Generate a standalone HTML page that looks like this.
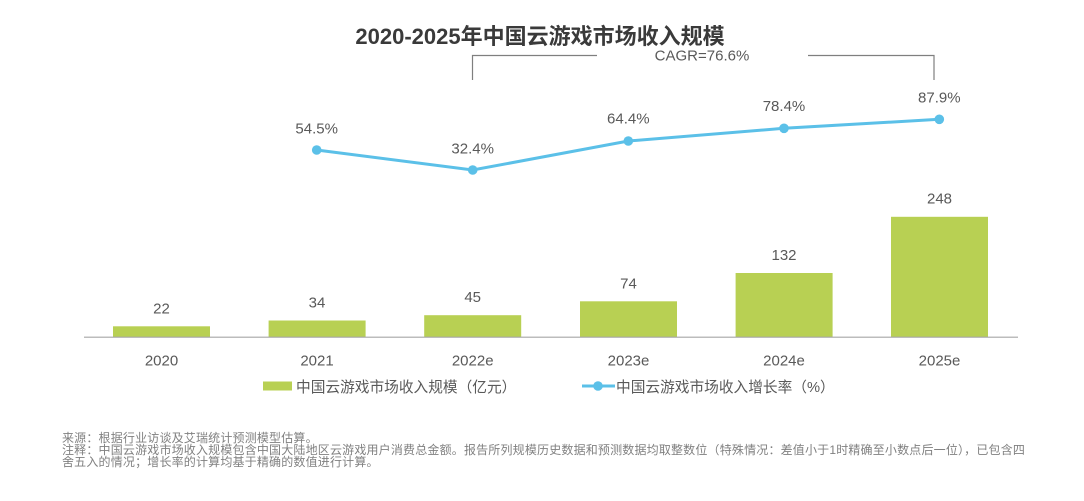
<!DOCTYPE html>
<html>
<head>
<meta charset="utf-8">
<style>
  html,body{margin:0;padding:0;background:#fff;}
  body{width:1084px;height:501px;overflow:hidden;position:relative;}
  svg{position:absolute;left:0;top:0;}
  .t{font-family:"Liberation Sans","Noto Sans CJK SC",sans-serif;}
  .foot{position:absolute;left:62px;font-family:"Liberation Sans","Noto Sans CJK SC",sans-serif;font-size:12px;line-height:12px;height:12px;color:#808080;white-space:nowrap;letter-spacing:0.18px;}
</style>
</head>
<body>
<svg width="1084" height="501" viewBox="0 0 1084 501" xmlns="http://www.w3.org/2000/svg">
  <!-- Title -->
  <text class="t" x="540" y="44" text-anchor="middle" font-size="22" font-weight="bold" fill="#3a3a3a">2020-2025年中国云游戏市场收入规模</text>

  <!-- CAGR bracket -->
  <polyline points="472.5,80 472.5,55.5 597,55.5" fill="none" stroke="#7f7f7f" stroke-width="1.2"/>
  <polyline points="808,55.5 934,55.5 934,80" fill="none" stroke="#7f7f7f" stroke-width="1.2"/>
  <text class="t" x="702" y="60.5" text-anchor="middle" font-size="15" fill="#595959">CAGR=76.6%</text>

  <!-- Bars -->
  <g fill="#b8d053">
    <rect x="113" y="326.3" width="97" height="10.7"/>
    <rect x="268.6" y="320.5" width="97" height="16.5"/>
    <rect x="424.2" y="315.2" width="97" height="21.8"/>
    <rect x="580" y="301.3" width="97" height="35.7"/>
    <rect x="735.6" y="273" width="97" height="64"/>
    <rect x="891" y="216.8" width="97" height="120.2"/>
  </g>
  <!-- Axis -->
  <line x1="84" y1="337.2" x2="1018" y2="337.2" stroke="#a6a6a6" stroke-width="1.2"/>

  <!-- Bar value labels -->
  <g class="t" font-size="15" fill="#595959" text-anchor="middle">
    <text x="161.5" y="313.5">22</text>
    <text x="317" y="307.5">34</text>
    <text x="472.7" y="302">45</text>
    <text x="628.5" y="288.5">74</text>
    <text x="784" y="260">132</text>
    <text x="939.5" y="203.5">248</text>
  </g>

  <!-- X labels -->
  <g class="t" font-size="15" fill="#595959" text-anchor="middle">
    <text x="161.5" y="365.5">2020</text>
    <text x="317" y="365.5">2021</text>
    <text x="472.7" y="365.5">2022e</text>
    <text x="628.5" y="365.5">2023e</text>
    <text x="784" y="365.5">2024e</text>
    <text x="939.5" y="365.5">2025e</text>
  </g>

  <!-- Growth line -->
  <polyline points="316.7,150 472.7,170 628.3,141 784,128.3 939.3,119.3" fill="none" stroke="#5bc0e8" stroke-width="3"/>
  <g fill="#5bc0e8">
    <circle cx="316.7" cy="150" r="4.8"/>
    <circle cx="472.7" cy="170" r="4.8"/>
    <circle cx="628.3" cy="141" r="4.8"/>
    <circle cx="784" cy="128.3" r="4.8"/>
    <circle cx="939.3" cy="119.3" r="4.8"/>
  </g>
  <g class="t" font-size="15" fill="#595959" text-anchor="middle">
    <text x="316.7" y="133.5">54.5%</text>
    <text x="472.7" y="153.5">32.4%</text>
    <text x="628.3" y="123.5">64.4%</text>
    <text x="784" y="111">78.4%</text>
    <text x="939.3" y="102.3">87.9%</text>
  </g>

  <!-- Legend -->
  <rect x="263" y="381.5" width="29" height="9" fill="#b8d053"/>
  <text class="t" x="296" y="392" font-size="14.7" fill="#595959">中国云游戏市场收入规模（亿元）</text>
  <line x1="582" y1="386" x2="615" y2="386" stroke="#5bc0e8" stroke-width="3"/>
  <circle cx="598" cy="386" r="4.8" fill="#5bc0e8"/>
  <text class="t" x="616" y="392" font-size="14.7" fill="#595959">中国云游戏市场收入增长率（%）</text>
</svg>
<div class="foot" style="top:432px;">来源：根据行业访谈及艾瑞统计预测模型估算。</div>
<div class="foot" style="top:444px;">注释：中国云游戏市场收入规模包含中国大陆地区云游戏用户消费总金额。报告所列规模历史数据和预测数据均取整数位（特殊情况：差值小于1时精确至小数点后一位），已包含四</div>
<div class="foot" style="top:456px;">舍五入的情况；增长率的计算均基于精确的数值进行计算。</div>
</body>
</html>
